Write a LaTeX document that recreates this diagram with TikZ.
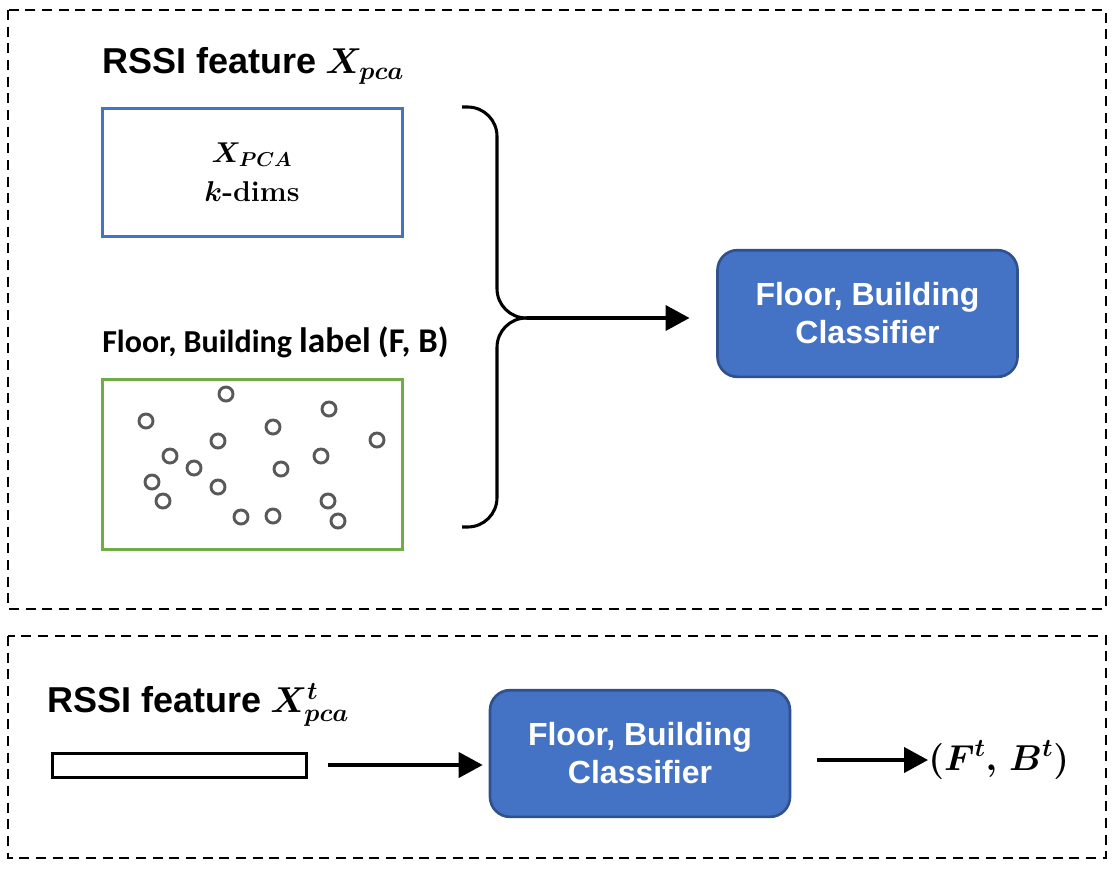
\RequirePackage{fix-cm}
\documentclass[tikz,border=0pt]{standalone}
\usepackage{amsmath,bm}
\usepackage{fontspec}
\newfontfamily\arialfont{Liberation Sans}
\newfontfamily\calibfont{Carlito}
\usetikzlibrary{arrows.meta, positioning}
\definecolor{clfblue}{HTML}{4472C4}
\definecolor{clfedge}{HTML}{2F528F}
\definecolor{featblue}{HTML}{4472C4}
\definecolor{labgreen}{HTML}{70AD47}
\definecolor{dotgray}{HTML}{595959}

\begin{document}
\begin{tikzpicture}[x=0.75pt, y=-0.75pt,
    frame/.style={draw, line width=2pt, dash pattern=on 7.5pt off 5pt},
    clfbox/.style={rectangle, draw=clfedge, fill=clfblue, line width=2pt, rounded corners=15pt, minimum width=225pt, minimum height=95pt, text=white, align=center, font=\arialfont\bfseries\fontsize{24}{28.5}\selectfont},
    title/.style={anchor=west, inner sep=0pt, font=\arialfont\bfseries\fontsize{27}{30}\selectfont},
    databox/.style={rectangle, draw, line width=2.25pt, minimum width=225pt},
    dot/.style={circle, draw=dotgray, line width=2.2pt, minimum size=10.5pt, inner sep=0pt},
    link/.style={line width=2.3pt, -{Triangle[length=18pt, width=19pt]}}
]
\useasboundingbox (0,0) rectangle (1114,868);

% training
\draw[frame] (8,10) rectangle (1106,609);
\node[title] (feat) at (102,66) {RSSI feature\hspace{0.25em}$\bm{X_{pca}}$};
\node[databox, draw=featblue, minimum height=96pt, align=center, font=\fontsize{21.5}{29}\selectfont] (featbox) at (252,172) {$\bm{X_{PCA}}$\\$\bm{k}$\textbf{-dims}};
\node[anchor=west, inner sep=0pt, font=\calibfont\bfseries\fontsize{24}{26}\selectfont] (labeltxt) at (102,342) {Floor, Building {\fontsize{26.5}{26}\selectfont label} {\fontsize{26}{26}\selectfont(F, B)}};
\node[databox, draw=labgreen, minimum height=127pt] (labelbox) at (252,464.5) {};
\foreach \px/\py [count=\i] in {226/394, 146/421, 329/409, 273/427, 218/441, 377/440, 170/456, 321/456, 194/468, 281/469, 152/482, 218/487, 163/501, 328/501, 241/517, 273/516, 338/521}
  \node[dot] (dot\i) at (\px,\py) {};

% brace and classifier
\coordinate (brace) at (527,318);
\draw[line width=2.3pt, rounded corners=22pt] (462,107) -- (497,107) -- (497,318) -- (brace);
\draw[line width=2.3pt, rounded corners=22pt] (brace) -- (497,318) -- (497,527) -- (462,527);
\node[clfbox] (clf) at (867.5,313.5) {Floor, Building\\Classifier};
\draw[link, shorten >=20pt] (brace) -- (brace -| clf.west);

% testing
\draw[frame] (8,636) rectangle (1106,858);
\node[title] (feattest) at (47,705) {RSSI feature\hspace{0.25em}$\bm{X^{t}_{pca}}$};
\node[databox, minimum width=190pt, minimum height=18pt] (testbar) at (179.5,765) {};
\node[clfbox] (clftest) at (640,753.5) {Floor, Building\\Classifier};
\node[anchor=west, inner sep=0pt, font=\fontsize{27}{30}\selectfont] (out) at (928,760) {$\bm{(F^{t},\, B^{t})}$};
\draw[link, shorten <=15pt, shorten >=4.5pt] (testbar.east) -- (testbar.east -| clftest.west);
\draw[link, shorten <=19pt] (clftest.east |- out.west) -- (out.west);
\end{tikzpicture}
\end{document}
